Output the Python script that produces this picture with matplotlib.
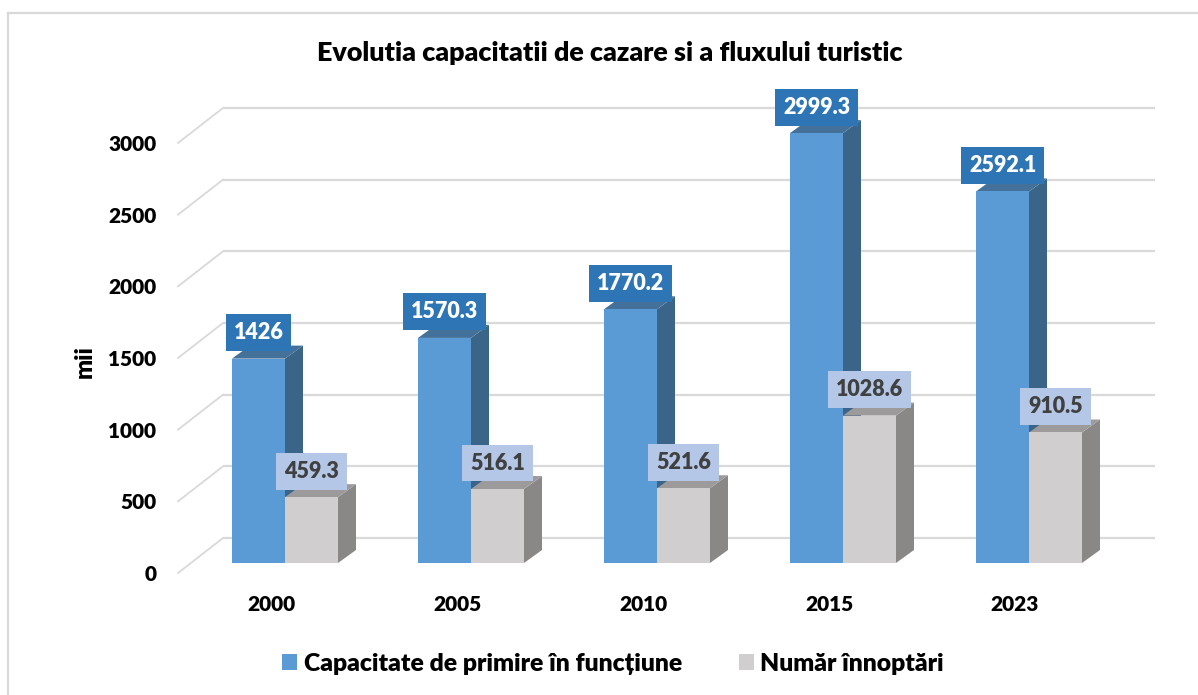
import matplotlib
matplotlib.use("Agg")
import matplotlib.pyplot as plt
from matplotlib.patches import Patch, Polygon
from matplotlib.lines import Line2D

plt.rcParams['font.family'] = ['Lato', 'DejaVu Sans']
plt.rcParams['font.weight'] = 'bold'

years = ['2000', '2005', '2010', '2015', '2023']
capacitate = [1426, 1570.3, 1770.2, 2999.3, 2592.1]
innoptari = [459.3, 516.1, 521.6, 1028.6, 910.5]
capacitate_labels = ['1426', '1570.3', '1770.2', '2999.3', '2592.1']
innoptari_labels = ['459.3', '516.1', '521.6', '1028.6', '910.5']
yticks = [0, 500, 1000, 1500, 2000, 2500, 3000]

W, H = 1198, 695
px_x = 1 / 186      # one pixel in x data units
px_y = 3000 / 430   # one pixel in y data units

fig = plt.figure(figsize=(W / 100, H / 100), dpi=100)
ax = fig.add_axes([178 / W, 1 - 573 / H, 930 / W, 430 / H])
ax.set_xlim(0, 5)
ax.set_ylim(0, 3000)
for s in ax.spines.values():
    s.set_visible(False)

# outer frame, only left and top are visible in the picture
fig.add_artist(Line2D([8 / W, 8 / W], [0, 1 - 13 / H], color='#d9d9d9', lw=1.6))
fig.add_artist(Line2D([8 / W, 1], [1 - 13 / H, 1 - 13 / H], color='#d9d9d9', lw=1.6))

# back wall gridlines and the slanted side wall
wall_x = 45 * px_x
wall_y = 35 * px_y
grid_end = 1155
for v in yticks:
    ax.plot([wall_x, (grid_end - 178) * px_x], [v + wall_y, v + wall_y],
            color='#d9d9d9', lw=1.6, clip_on=False, zorder=1, solid_capstyle='butt')
    ax.plot([0, wall_x], [v, v + wall_y], color='#d9d9d9', lw=1.3, clip_on=False, zorder=1)

bar_w = 53 * px_x
shift_x = 14 * px_x    # bars stand in the middle of the floor depth
shift_y = 10 * px_y
depth_x = 18 * px_x
depth_y = 13 * px_y


def bar3d(x_left, value, front, side, top, z):
    ax.bar(x_left, value, bar_w, bottom=shift_y, align='edge', color=front,
           clip_on=False, zorder=z + 0.2)
    y0 = shift_y
    y1 = shift_y + value
    x1 = x_left + bar_w
    ax.add_patch(Polygon([(x1, y0), (x1 + depth_x, y0 + depth_y),
                          (x1 + depth_x, y1 + depth_y), (x1, y1)],
                         closed=True, facecolor=side, edgecolor='none', clip_on=False, zorder=z))
    ax.add_patch(Polygon([(x_left, y1), (x_left + depth_x, y1 + depth_y),
                          (x1 + depth_x, y1 + depth_y), (x1, y1)],
                         closed=True, facecolor=top, edgecolor='none', clip_on=False, zorder=z + 0.1))


def value_label(x_left, value, text, box, color):
    ax.text(x_left + bar_w / 2, shift_y + value + 26 * px_y, text, ha='center', va='center',
            fontsize=15.5, fontweight='heavy', color=color, zorder=10, clip_on=False,
            bbox=dict(boxstyle='square,pad=0.37', facecolor=box, edgecolor='none'))


for i in range(len(years)):
    xb = i + 0.5 + shift_x - bar_w
    xg = i + 0.5 + shift_x
    bar3d(xb, capacitate[i], '#5b9bd5', '#3b6489', '#44719a', 3)
    bar3d(xg, innoptari[i], '#d0cece', '#8a8787', '#9c9a9a', 4)
    value_label(xb, capacitate[i], capacitate_labels[i], '#2e75b6', 'white')
    value_label(xg, innoptari[i], innoptari_labels[i], '#b4c7e7', '#404040')

ax.set_xticks([i + 0.5 for i in range(len(years))])
ax.set_xticklabels(years, fontsize=15, fontweight='heavy', color='black')
ax.set_yticks(yticks)
ax.set_yticklabels([str(v) for v in yticks], fontsize=15, fontweight='heavy', color='black')
ax.tick_params(axis='both', length=0)
ax.tick_params(axis='x', pad=16)
ax.tick_params(axis='y', pad=15.5)
for t in ax.get_yticklabels():
    t.set_verticalalignment('center_baseline')

fig.text(610 / W, 1 - 53 / H, 'Evolutia capacitatii de cazare si a fluxului turistic',
         ha='center', va='center', fontsize=19.4, fontweight='heavy', color='black')
fig.text(85 / W, 1 - 362 / H, 'mii', rotation=90, ha='center', va='center',
         fontsize=17, fontweight='heavy', color='black')

handles = [Patch(facecolor='#5b9bd5', label='Capacitate de primire în funcțiune'),
           Patch(facecolor='#d0cece', label='Număr înnoptări')]
fig.legend(handles=handles, loc='center', bbox_to_anchor=(613 / W, 1 - 664 / H), ncol=2,
           frameon=False, handlelength=0.62, handleheight=0.62,
           handletextpad=0.26, columnspacing=2.3, prop={'weight': 'heavy', 'size': 17.8})

fig.savefig('out.png', dpi=100)
